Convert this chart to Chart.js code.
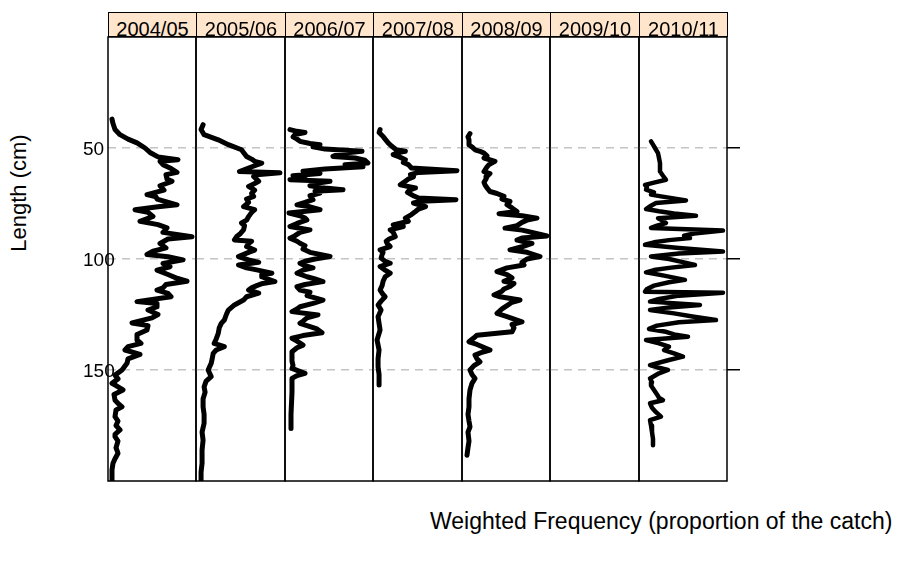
<!DOCTYPE html>
<html lang="en">
<head>
<meta charset="UTF-8">
<title>Length frequency by season</title>
<script src="https://cdn.jsdelivr.net/npm/chart.js"></script>
<style>
    body {
        margin: 0;
        background: #fff;
        font-family: "Liberation Sans", Arial, sans-serif;
        color: #000;
    }

    #wrap {
        position: relative;
        width: 897px;
        height: 561px;
        overflow: hidden;
    }

    .panel {
        position: absolute;
    }

    .strip {
        position: absolute;
        top: 12px;
        height: 25px;
        box-sizing: border-box;
        border: 1px solid #000;
        background: #ffe5cc;
        font-size: 20px;
        line-height: 19px;
        padding-top: 7px;
        text-align: center;
        white-space: nowrap;
    }

    #ylab {
        position: absolute;
        left: 19px;
        top: 193px;
        font-size: 22px;
        line-height: 22px;
        white-space: nowrap;
        transform: translate(-50%, -50%) rotate(-90deg);
    }

    #xlab {
        position: absolute;
        left: 430px;
        top: 510px;
        font-size: 23px;
        line-height: 23px;
        white-space: nowrap;
    }
</style>
</head>
<body>

<div id="wrap">
    <div id="ylab">Length (cm)</div>
    <div id="xlab">Weighted Frequency (proportion of the catch)</div>
</div>

<script>
    // season panels
    const seasons = ['2004/05', '2005/06', '2006/07', '2007/08', '2008/09', '2009/10', '2010/11'];
    const lengthTicks = [50, 100, 150];

    // length (cm) and weighted frequency
    const len0405 = [37, 39, 41.7, 44, 46, 47.7, 50, 52, 54, 55.3, 56, 57.5, 59, 61, 62, 64, 65, 67, 69, 71, 72, 73, 75.6, 76.5, 77.8, 79, 80.8, 82, 83, 84.5, 86, 88, 90, 91, 93, 95, 96.5, 98, 99, 100.4, 102, 103.5, 105, 107, 108.5, 110, 111.5, 113, 114, 115.5, 117, 119.2, 120, 121.5, 123, 125, 126.5, 128.8, 130, 132, 134, 136.5, 138, 139.5, 141, 143, 145, 147, 150, 152.3, 154, 156, 157, 159, 161, 163.6, 165, 166.6, 168, 171, 173, 175, 177, 179, 180, 182, 185, 187.5, 190, 192, 195, 198, 200];
    const frq0405 = [0, .001, .003, .008, .016, .025, .033, .038, .046, .066, .048, .051, .058, .065, .054, .055, .060, .048, .052, .035, .044, .045, .065, .046, .023, .036, .041, .034, .028, .046, .055, .051, .080, .056, .048, .054, .041, .035, .056, .071, .051, .058, .045, .056, .064, .075, .054, .051, .045, .056, .059, .025, .045, .045, .036, .046, .040, .020, .036, .035, .025, .025, .029, .016, .013, .028, .016, .015, .010, .003, .006, 0, .004, .011, .002, .003, .006, .010, .004, .003, .006, .004, .008, .003, .003, .006, .004, .006, .003, .001, 0, 0, 0];

    const len0506 = [39.5, 41.7, 44, 46.3, 48.5, 50.8, 52, 53.8, 55, 56, 56.8, 58, 59, 60.6, 61.2, 62, 62.8, 65, 66, 67.3, 69, 70.5, 71.8, 73, 74.5, 76.4, 77.8, 79, 80.9, 82.5, 83.8, 85, 86.9, 88.5, 90, 91.4, 92, 93, 94.4, 96, 97, 98.9, 100.4, 101.5, 102.7, 104, 104.9, 106.4, 107, 108, 110.2, 111, 112, 113, 114, 115.4, 117, 118.5, 120.7, 123, 125, 127.5, 129, 131, 133.5, 136, 138, 139.5, 141, 142.5, 145, 147, 150, 153, 155, 157.6, 160, 163, 166.6, 170, 174, 178, 181.6, 186, 192, 196, 200];
    const frq0506 = [.003, .001, .004, .018, .028, .041, .043, .046, .051, .054, .061, .054, .048, .039, .079, .056, .053, .058, .054, .048, .054, .051, .053, .046, .048, .043, .054, .051, .048, .046, .041, .044, .043, .040, .036, .034, .051, .048, .046, .054, .048, .038, .048, .058, .038, .046, .056, .071, .061, .061, .074, .062, .056, .051, .048, .058, .046, .043, .034, .028, .026, .024, .021, .019, .018, .016, .014, .024, .016, .013, .012, .011, .008, .011, .006, .004, .005, .003, .003, .004, .004, .002, .003, .002, .002, .001, .001];

    const len0607 = [41.7, 42.5, 43, 44, 45, 46, 47, 48, 48.5, 49.5, 50.5, 51.5, 52.5, 53.8, 54.5, 55.5, 56.8, 57.5, 58.5, 59.5, 60.5, 61.5, 62.5, 63.5, 64.3, 65, 66, 67, 68, 68.8, 69.5, 70.3, 71.5, 73.3, 74.5, 75.6, 76.5, 77.8, 79.3, 80.5, 81.5, 82.4, 84, 85.4, 86.9, 88, 89.5, 90.6, 92, 92.9, 94, 95.5, 97, 98.9, 100, 101, 101.9, 103, 104, 105, 106.4, 108, 109, 110.2, 111.5, 112.5, 114, 115, 116.5, 118.5, 120, 121.5, 122.5, 123.7, 125.2, 126.5, 128, 129, 130.5, 131.5, 133.2, 134.5, 135.7, 137, 138.8, 140, 141.8, 144, 146, 148, 149.3, 150.5, 151.5, 152.5, 153.8, 160, 170, 176.4];
    const frq0607 = [.001, .008, .016, .006, .004, .008, .011, .021, .031, .024, .036, .073, .051, .044, .066, .076, .079, .056, .074, .036, .014, .031, .004, .016, .001, .041, .026, .021, .036, .054, .026, .031, .021, .024, .016, .008, .021, .031, 0, .011, .016, .018, .008, .001, .021, .011, .006, .001, .008, .011, .016, .014, .021, .041, .026, .016, .011, .016, .024, .014, .008, .018, .026, .034, .016, .008, .011, .021, .018, .034, .024, .011, .008, .003, .029, .018, .014, .011, .021, .028, .033, .014, .003, .008, .014, .008, .003, .003, .003, .004, .003, .010, .016, .008, .003, .003, .002, .002];

    const len0708 = [41.7, 43, 44.8, 46, 47.7, 49, 50.8, 51.5, 52, 53, 54, 55.3, 56.5, 57.5, 59, 60.2, 61, 62, 63, 64, 65, 66.6, 68, 69, 70, 71.5, 72.5, 73.3, 74, 74.8, 76.4, 77.5, 78.6, 80, 81.6, 83, 84.6, 85.4, 86.9, 88, 89.9, 91, 92, 93, 94.4, 95.9, 97, 98, 99.6, 101, 101.9, 103.4, 105, 106.4, 108, 110, 112, 114, 116, 117, 119, 120.7, 123, 126, 129, 132, 136.5, 141, 145, 148.6, 152, 156.8];
    const frq0708 = [.003, .002, .006, .008, .011, .014, .019, .028, .021, .016, .022, .028, .026, .031, .034, .079, .041, .033, .036, .031, .028, .023, .038, .032, .030, .036, .041, .078, .044, .036, .048, .041, .038, .034, .028, .031, .016, .026, .013, .016, .018, .012, .009, .010, .013, .003, .006, .005, .004, .008, .013, .003, .008, .013, .008, .006, .005, .003, .006, .008, .004, .001, .004, .001, .002, .003, 0, .002, .001, .001, .002, .002];

    const len0809 = [43.5, 45, 46.3, 48.5, 49.5, 50.8, 51.5, 52.3, 53.5, 54.5, 56, 57.5, 58.5, 60.6, 61.5, 62.8, 64, 65.5, 66.6, 68, 69.6, 70.5, 71.8, 73, 74.1, 75.5, 77, 78.6, 79.6, 80.5, 81.6, 82.5, 83.5, 85, 86.1, 87, 88, 89.6, 90.5, 91.5, 93, 94.5, 95.9, 97, 98.9, 100, 101.5, 102.7, 104, 105.7, 107, 108.5, 110, 111, 112.4, 113.5, 114.5, 116.2, 117, 118.5, 119.5, 121, 122.5, 124.5, 126, 128.3, 129.5, 131, 132.8, 134.3, 135.5, 137.3, 138.5, 141, 142, 143.3, 145, 146.3, 148, 150, 152, 153.8, 156, 159, 163, 166.6, 170, 173, 175.6, 178, 182, 185, 188.4];
    const frq0809 = [.004, .002, .003, .003, .006, .009, .014, .018, .021, .018, .029, .023, .021, .018, .024, .021, .020, .018, .019, .021, .024, .031, .038, .036, .044, .041, .046, .051, .033, .056, .071, .061, .056, .051, .039, .056, .066, .081, .056, .051, .066, .056, .044, .061, .074, .061, .056, .058, .041, .031, .041, .046, .038, .048, .044, .038, .036, .028, .034, .054, .046, .041, .036, .031, .041, .056, .046, .048, .046, .011, .008, .003, .011, .024, .016, .009, .011, .014, .008, .004, .006, .009, .006, .004, .003, .003, .002, .003, .004, .002, .003, .002, .001];

    const len0910 = [];
    const frq0910 = [];

    const len1011 = [47, 48.5, 50, 52.3, 54.5, 56.8, 58.5, 60.6, 62.5, 64.3, 65.5, 66.6, 67.5, 68.8, 70, 71, 71.8, 73.6, 74.8, 76, 77.5, 78.5, 79.5, 80.5, 81.6, 82.5, 83.8, 85, 86, 87.2, 88.5, 89.5, 90.6, 91.5, 92.5, 93.6, 95, 96.6, 97.5, 98.9, 100, 101.5, 102.7, 104, 105, 106, 107.5, 109.4, 110.5, 112, 113.5, 114.7, 115.2, 116.5, 118, 119.2, 120.7, 121.8, 123, 124.5, 126, 127.5, 128.5, 130, 131.5, 132.8, 134, 135, 136.5, 138, 139.5, 141, 142.5, 144, 145.5, 147.8, 149, 150, 151.5, 153.8, 155.5, 157, 159, 161, 162.5, 163.6, 165, 167, 169, 171, 172.6, 175, 178, 181, 183.9];
    const frq1011 = [.008, .010, .012, .015, .016, .017, .017, .017, .020, .023, .012, .002, .004, .003, .011, .008, .018, .043, .013, .008, .003, .016, .031, .053, .015, .019, .023, .014, .008, .080, .051, .041, .047, .026, .011, .002, .036, .080, .036, .008, .026, .041, .052, .026, .011, .003, .021, .042, .026, .011, .004, .002, .080, .036, .016, .007, .057, .026, .007, .031, .051, .073, .036, .014, .006, .023, .031, .045, .003, .016, .026, .021, .031, .040, .026, .007, .016, .025, .016, .007, .009, .008, .011, .014, .016, .020, .007, .009, .013, .018, .007, .008, .009, .010, .010];

    const lengths = [len0405, len0506, len0607, len0708, len0809, len0910, len1011];
    const freqs = [frq0405, frq0506, frq0607, frq0708, frq0809, frq0910, frq1011];

    // layout of the lattice
    const PLOT_TOP = 37;
    const PLOT_BOTTOM = 481;
    const PANEL_X0 = 108;
    const PANEL_W = 88.47;
    const LABEL_W = 25;
    const FONT = '"Liberation Sans", Arial, sans-serif';

    // black frame round every panel
    const framePlugin = {
        id: 'panelFrame',
        afterDraw(chart) {
            const a = chart.chartArea;
            const ctx = chart.ctx;
            ctx.save();
            ctx.strokeStyle = '#000';
            ctx.lineWidth = 1.5;
            ctx.strokeRect(a.left, a.top, a.right - a.left, a.bottom - a.top);
            ctx.restore();
        }
    };

    // length labels on the left of the first panel, they overlap its border like in the original
    const lengthLabelPlugin = {
        id: 'lengthLabels',
        beforeDatasetsDraw(chart) {
            const y = chart.scales.y;
            const ctx = chart.ctx;
            ctx.save();
            ctx.font = '19px ' + FONT;
            ctx.fillStyle = '#000';
            ctx.textAlign = 'left';
            ctx.textBaseline = 'middle';
            lengthTicks.forEach(v => {
                ctx.fillText(String(v), chart.chartArea.left - LABEL_W, y.getPixelForValue(v) + 1.5);
            });
            ctx.restore();
        }
    };

    const wrap = document.getElementById('wrap');

    seasons.forEach((season, i) => {
        const left = Math.round(PANEL_X0 + i * PANEL_W);
        const right = Math.round(PANEL_X0 + (i + 1) * PANEL_W);
        const first = i === 0;
        const last = i === seasons.length - 1;
        const extraL = first ? LABEL_W : 1;
        const extraR = last ? 13 : 1;

        const strip = document.createElement('div');
        strip.className = 'strip';
        strip.style.left = left + 'px';
        strip.style.width = (right - left + 1) + 'px';
        strip.textContent = season;
        wrap.appendChild(strip);

        const box = document.createElement('div');
        box.className = 'panel';
        box.style.left = (left - extraL) + 'px';
        box.style.top = (PLOT_TOP - 1) + 'px';
        const cv = document.createElement('canvas');
        cv.width = right - left + extraL + extraR;
        cv.height = PLOT_BOTTOM - PLOT_TOP + 2;
        box.appendChild(cv);
        wrap.appendChild(box);

        new Chart(cv, {
            type: 'line',
            data: {
                datasets: [{
                    label: season,
                    data: lengths[i].map((l, k) => ({ x: freqs[i][k], y: l })),
                    borderColor: '#000',
                    borderWidth: last ? 4.5 : 5,
                    borderJoinStyle: 'round',
                    borderCapStyle: 'round',
                    pointRadius: 0,
                    tension: 0,
                    fill: false
                }]
            },
            options: {
                responsive: false,
                animation: false,
                events: [],
                layout: {
                    padding: { left: first ? LABEL_W : 1, right: last ? 0 : 1, top: 1, bottom: 1 }
                },
                plugins: {
                    legend: { display: false },
                    tooltip: { enabled: false }
                },
                scales: {
                    x: { type: 'linear', min: -0.004, max: 0.084, display: false },
                    y: {
                        type: 'linear',
                        reverse: true,
                        min: 0,
                        max: 200,
                        position: last ? 'right' : 'left',
                        afterBuildTicks: s => { s.ticks = lengthTicks.map(v => ({ value: v })); },
                        afterFit: s => { s.width = last ? 13 : 0; },
                        ticks: { display: false },
                        grid: {
                            color: '#c4c4c4',
                            lineWidth: 1.5,
                            drawTicks: last,
                            tickLength: 13,
                            tickColor: '#000',
                            tickWidth: 1.5,
                            tickBorderDash: []
                        },
                        border: { display: false, dash: [8, 6] }
                    }
                }
            },
            plugins: first ? [framePlugin, lengthLabelPlugin] : [framePlugin]
        });
    });
</script>

</body>
</html>
